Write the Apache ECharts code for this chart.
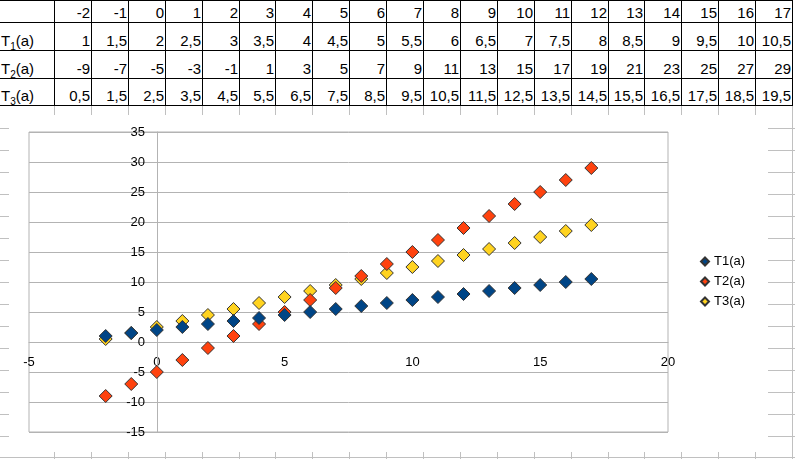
<!DOCTYPE html>
<html><head><meta charset="utf-8">
<script src="https://cdn.jsdelivr.net/npm/echarts/dist/echarts.min.js"></script>
<style>
html,body{margin:0;padding:0;width:795px;height:459px;overflow:hidden;background:#fff;font-family:"Liberation Sans",Arial,sans-serif;}
#sheet{position:absolute;left:0;top:0;width:795px;height:459px;}
.l{position:absolute;background:#000;}
.g{position:absolute;background:#c0c0c0;}
.c{position:absolute;font-size:15px;color:#000;white-space:nowrap;line-height:16px;height:16px;}
#obj{position:absolute;left:9px;top:115px;width:759px;height:337px;background:#fff;}
#vline{position:absolute;width:1px;background:#b3b3b3;}
#chart{position:absolute;left:0;top:0;width:795px;height:459px;}
</style>
</head><body>
<div id="sheet"></div>
<div id="obj"></div>
<div id="vline"></div>
<div id="chart"></div>
<script>
// ---- data ----
const aValues = [-2,-1,0,1,2,3,4,5,6,7,8,9,10,11,12,13,14,15,16,17];
const t1Values = [1,1.5,2,2.5,3,3.5,4,4.5,5,5.5,6,6.5,7,7.5,8,8.5,9,9.5,10,10.5];
const t2Values = [-9,-7,-5,-3,-1,1,3,5,7,9,11,13,15,17,19,21,23,25,27,29];
const t3Values = [0.5,1.5,2.5,3.5,4.5,5.5,6.5,7.5,8.5,9.5,10.5,11.5,12.5,13.5,14.5,15.5,16.5,17.5,18.5,19.5];
const rowSubscripts = ['1','2','3'];
const seriesNames = ['T1(a)','T2(a)','T3(a)'];
const xAxisRange = [-5, 20, 5];
const yAxisRange = [-15, 35, 5];

// ---- spreadsheet background ----
const sheet = document.getElementById('sheet');
function add(cls, x, y, w, h, html, style) {
  const d = document.createElement('div');
  d.className = cls;
  d.style.left = x + 'px'; d.style.top = y + 'px';
  if (w != null) d.style.width = w + 'px';
  if (h != null) d.style.height = h + 'px';
  if (html != null) d.innerHTML = html;
  if (style) Object.assign(d.style, style);
  sheet.appendChild(d);
  return d;
}
const colX = [];
for (let k = 0; k <= 20; k++) colX.push(Math.round(54 + 36.9 * k));
const rowY = [0, 22, 50, 78, 105];
const greyRows = [];
for (let k = 0; k <= 14; k++) greyRows.push(128 + 22 * k);
greyRows.push(457);
greyRows.forEach(y => add('g', 0, y, 795, 1));
colX.forEach(x => add('g', x, 106, 1, 353));
rowY.forEach(y => add('l', 0, y, colX[20] + 1, 1));
colX.forEach(x => add('l', x, 0, 1, 106));
function fmt(v) { return String(v).replace('.', ','); }
const rows = [aValues, t1Values, t2Values, t3Values];
rows.forEach((vals, r) => {
  const bottom = rowY[r + 1];
  vals.forEach((v, k) => {
    const x0 = colX[k], x1 = colX[k + 1];
    add('c', x0, bottom - 17, x1 - x0 - 1, null, fmt(v), {textAlign: 'right'});
  });
  if (r > 0) {
    add('c', 1, bottom - 17, 52, null,
      'T<span style="font-size:10px;position:relative;top:4px">' + rowSubscripts[r - 1] + '</span>(a)');
  }
});

// ---- chart ----
const chart = echarts.init(document.getElementById('chart'), null, {renderer: 'canvas'});
function pts(vals) { return aValues.map((a, i) => [a, vals[i]]); }
const colors = ['#004586', '#ff420e', '#ffd320'];
const valueSets = [t1Values, t2Values, t3Values];
const axisGrey = '#b3b3b3';
const series = [2, 1, 0].map(i => ({
  name: seriesNames[i],
  type: 'scatter',
  symbol: 'diamond',
  symbolSize: 13,
  z: 3,
  data: pts(valueSets[i]),
  itemStyle: {color: colors[i], borderColor: '#333', borderWidth: 1, opacity: 1},
  emphasis: {disabled: true}
}));
const gridL = 29, gridR = 668, gridT = 132, gridB = 432;
const xZeroPx = Math.round((0 - xAxisRange[0]) / (xAxisRange[1] - xAxisRange[0]) * (gridR - gridL));
const yZeroPx = Math.round((0 - yAxisRange[0]) / (yAxisRange[1] - yAxisRange[0]) * (gridB - gridT));
chart.setOption({
  animation: false,
  textStyle: {fontFamily: '"Liberation Sans", Arial, sans-serif'},
  grid: {left: gridL, right: 795 - gridR, top: gridT, bottom: 459 - gridB, show: true, borderColor: axisGrey, borderWidth: 1},
  legend: {
    orient: 'vertical', left: 700, top: 255, padding: 0,
    itemWidth: 8, itemHeight: 8, itemGap: 7, icon: 'diamond',
    data: seriesNames,
    textStyle: {fontSize: 13, color: '#000'}
  },
  xAxis: {
    type: 'value', min: xAxisRange[0], max: xAxisRange[1], interval: xAxisRange[2],
    axisLine: {show: true, onZero: true, lineStyle: {color: axisGrey}},
    axisTick: {show: false}, splitLine: {show: false},
    axisLabel: {color: '#000', fontSize: 13, margin: 14 - yZeroPx, showMinLabel: true, showMaxLabel: true}
  },
  yAxis: {
    type: 'value', min: yAxisRange[0], max: yAxisRange[1], interval: yAxisRange[2],
    axisLine: {show: true, onZero: true, lineStyle: {color: axisGrey}},
    axisTick: {show: false},
    splitLine: {show: true, lineStyle: {color: axisGrey}},
    axisLabel: {color: '#000', fontSize: 13, margin: 12 - xZeroPx, showMinLabel: true, showMaxLabel: true}
  },
  series: series
});
// vertical axis line through x = 0, placed with the chart's own scale
const pBottom = chart.convertToPixel({gridIndex: 0}, [0, yAxisRange[0]]);
const pTop = chart.convertToPixel({gridIndex: 0}, [0, yAxisRange[1]]);
const lx = Math.round(pTop[0]) + 0.5;
chart.setOption({
  graphic: [{
    type: 'line', silent: true, z: 1,
    shape: {x1: lx, y1: Math.round(pTop[1]), x2: lx, y2: Math.round(pBottom[1])},
    style: {stroke: axisGrey, lineWidth: 1}
  }]
});
const vl = document.getElementById('vline');
vl.style.left = Math.round(pTop[0]) + 'px';
vl.style.top = Math.round(pTop[1]) + 'px';
vl.style.height = Math.round(pBottom[1] - pTop[1]) + 'px';
</script>
</body></html>
